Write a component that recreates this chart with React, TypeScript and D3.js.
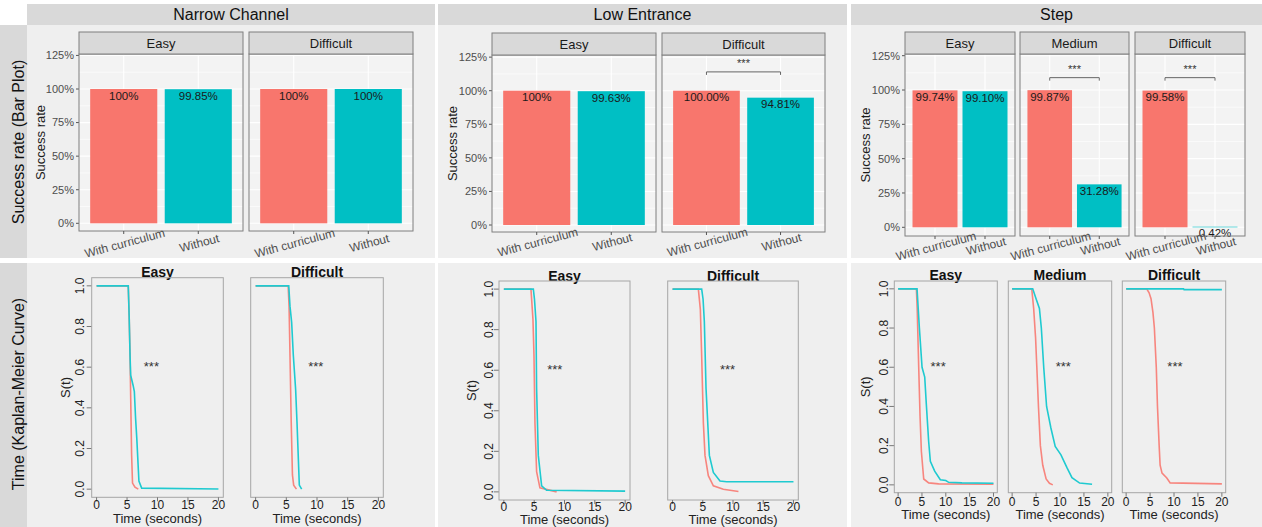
import React from 'react';
import * as d3 from 'd3';

const W = 1262;
const H = 527;
const RED = '#F8766D';
const TEAL = '#00BFC4';
const KM_RED = '#F7857E';
const KM_TEAL = '#1FCAD0';
const FONT = '"Liberation Sans", Arial, sans-serif';

// ---- data ----
const columnTitles = ['Narrow Channel', 'Low Entrance', 'Step'];
const rowTitles = ['Success rate (Bar Plot)', 'Time (Kaplan-Meier Curve)'];
const groups = ['With curriculum', 'Without'];
const yTicks = [0, 0.25, 0.5, 0.75, 1, 1.25];
const timeTicks = [0, 5, 10, 15, 20];
const survTicks = [0, 0.2, 0.4, 0.6, 0.8, 1.0];

const narrowLevels = ['Easy', 'Difficult'];
const narrowWith = [1.0, 1.0];
const narrowWithout = [0.9985, 1.0];
const narrowWithLabels = ['100%', '100%'];
const narrowWithoutLabels = ['99.85%', '100%'];
const narrowSig = [null, null];

const lowLevels = ['Easy', 'Difficult'];
const lowWith = [1.0, 1.0];
const lowWithout = [0.9963, 0.9481];
const lowWithLabels = ['100%', '100.00%'];
const lowWithoutLabels = ['99.63%', '94.81%'];
const lowSig = [null, 1.14];

const stepLevels = ['Easy', 'Medium', 'Difficult'];
const stepWith = [0.9974, 0.9987, 0.9958];
const stepWithout = [0.991, 0.3128, 0.0042];
const stepWithLabels = ['99.74%', '99.87%', '99.58%'];
const stepWithoutLabels = ['99.10%', '31.28%', '0.42%'];
const stepSig = [null, 1.09, 1.09];

// Kaplan-Meier curves, [time, S(t)]
const narrowEasyWith = [[0, 1], [5.2, 1], [5.35, 0.85], [5.5, 0.65], [5.6, 0.45], [5.75, 0.17], [5.9, 0.03], [6.3, 0.01], [6.85, 0]];
const narrowEasyWithout = [[0, 1], [5.2, 1], [5.35, 0.85], [5.5, 0.65], [5.6, 0.56], [6.0, 0.51], [6.2, 0.48], [6.4, 0.35], [6.6, 0.25], [6.95, 0.04], [7.4, 0.005], [20, 0.001]];
const narrowDiffWith = [[0, 1], [5.3, 1], [5.45, 0.9], [5.6, 0.66], [5.8, 0.33], [6.0, 0.07], [6.2, 0.02], [6.65, 0]];
const narrowDiffWithout = [[0, 1], [5.4, 1], [5.6, 0.9], [5.87, 0.82], [6.14, 0.66], [6.52, 0.49], [6.74, 0.33], [7.12, 0.02], [7.5, 0]];

const lowEasyWith = [[0, 1], [4.47, 1], [4.8, 0.85], [4.97, 0.67], [5.13, 0.34], [5.4, 0.1], [5.95, 0.02], [8.7, 0]];
const lowEasyWithout = [[0, 1], [4.86, 1], [5.05, 0.95], [5.3, 0.84], [5.4, 0.51], [5.68, 0.18], [6.23, 0.03], [7.05, 0.008], [20, 0.004]];
const lowDiffWith = [[0, 1], [4.27, 1], [4.6, 0.9], [4.82, 0.67], [5.1, 0.34], [5.37, 0.18], [5.92, 0.08], [6.75, 0.03], [8.4, 0.013], [10.9, 0.002]];
const lowDiffWithout = [[0, 1], [4.82, 1], [5.05, 0.95], [5.26, 0.84], [5.54, 0.51], [6.09, 0.18], [6.75, 0.096], [7.85, 0.054], [8.95, 0.05], [20, 0.05]];

const stepEasyWith = [[0, 1], [3.83, 1], [4.0, 0.9], [4.32, 0.6], [4.6, 0.35], [4.88, 0.17], [5.37, 0.03], [6.41, 0.01], [8.5, 0.005], [20, 0.003]];
const stepEasyWithout = [[0, 1], [3.97, 1], [4.46, 0.8], [5.02, 0.6], [5.58, 0.55], [5.92, 0.41], [6.41, 0.22], [6.76, 0.12], [7.67, 0.07], [8.85, 0.026], [10, 0.022], [10.6, 0.013], [13.4, 0.01], [20, 0.008]];
const stepMedWith = [[0, 1], [4.1, 1], [4.5, 0.9], [4.9, 0.75], [5.16, 0.6], [5.5, 0.4], [5.9, 0.2], [6.4, 0.1], [7.1, 0.03], [7.8, 0.008], [8.5, 0]];
const stepMedWithout = [[0, 1], [4.3, 1], [5.0, 0.95], [5.7, 0.9], [6.1, 0.8], [6.6, 0.6], [7.2, 0.4], [8.1, 0.29], [9.0, 0.196], [10.2, 0.153], [11.5, 0.085], [12.5, 0.037], [14.1, 0.009], [16.7, 0.003]];
const stepDiffWith = [[0, 1], [4.3, 1], [4.8, 0.98], [5.2, 0.95], [5.6, 0.88], [5.9, 0.8], [6.3, 0.6], [6.55, 0.4], [6.9, 0.2], [7.1, 0.1], [7.5, 0.06], [8.5, 0.035], [9.2, 0.01], [20, 0.005]];
const stepDiffWithout = [[0, 1], [12, 1], [12.1, 0.996], [20, 0.996]];

const narrowKmTitles = ['Easy', 'Difficult'];
const lowKmTitles = ['Easy', 'Difficult'];
const stepKmTitles = ['Easy', 'Medium', 'Difficult'];
const narrowSigT = [9.0, 9.8];
const lowSigT = [8.4, 9.1];
const stepSigT = [8.4, 10.7, 10.2];
const sigS = 0.62;

// ---- layout ----
const colX = [[27, 435], [438, 847], [851, 1262]];
const barLayouts = [
  { panels: [[79, 243], [249, 413]], stripTop: 32, stripBottom: 54, panelBottom: 231, y0: 223.3, y100: 89, ylabX: 40, xlabDy: 12 },
  { panels: [[492, 656], [662, 825]], stripTop: 33, stripBottom: 55, panelBottom: 232, y0: 225, y100: 90.7, ylabX: 452, xlabDy: 10 },
  { panels: [[905, 1015], [1020, 1129], [1135, 1245]], stripTop: 32, stripBottom: 54, panelBottom: 236, y0: 227.3, y100: 90, ylabX: 865, xlabDy: 10 },
];
const kmLayouts = [
  { boxes: [[91.7, 223.3], [250.7, 383.3]], top: 277.7, bottom: 497.3, titleY: 271.7, xtickY: 504.3, xlabY: 518.3, ytickX: 80, ylabX: 65 },
  { boxes: [[499, 630], [667.7, 798.3]], top: 281, bottom: 500, titleY: 275.7, xtickY: 506.7, xlabY: 519, ytickX: 488.3, ylabX: 471.7 },
  { boxes: [[894.3, 997.3], [1008.3, 1111.7], [1122.3, 1225.7]], top: 281, bottom: 492.7, titleY: 275, xtickY: 501.7, xlabY: 514.3, ytickX: 883.3, ylabX: 865 },
];

const pct = d3.format('.0%');

function BarColumn({ lay, levels, withVals, withoutVals, withLabels, withoutLabels, sig }) {
  const y = d3.scaleLinear().domain([0, 1]).range([lay.y0, lay.y100]);
  const left = lay.panels[0][0];
  const minor = d3.range(0.125, 1.3, 0.25);
  return (
    <g>
      {yTicks.map(t => (
        <g key={t}>
          <line x1={left - 3} x2={left} y1={y(t)} y2={y(t)} stroke="#555" />
          <text x={left - 5} y={y(t)} dy="0.35em" textAnchor="end" fontSize={11} fill="#4d4d4d">{pct(t)}</text>
        </g>
      ))}
      <text transform={`translate(${lay.ylabX},${(lay.stripBottom + lay.panelBottom) / 2}) rotate(-90)`}
        textAnchor="middle" dy="0.35em" fontSize={13} fill="#1a1a1a">Success rate</text>
      {levels.map((lv, i) => {
        const [x0, x1] = lay.panels[i];
        const x = d3.scaleBand().domain(groups).range([x0, x1]).paddingInner(0.1).paddingOuter(0.15);
        const bw = x.bandwidth();
        const cx = g => x(g) + bw / 2;
        const vals = [withVals[i], withoutVals[i]];
        const labels = [withLabels[i], withoutLabels[i]];
        return (
          <g key={lv}>
            <rect x={x0} y={lay.stripBottom} width={x1 - x0} height={lay.panelBottom - lay.stripBottom} fill="#f3f3f3" />
            {minor.map(t => (
              <line key={'m' + t} x1={x0} x2={x1} y1={y(t)} y2={y(t)} stroke="#fff" strokeWidth={0.6} />
            ))}
            {yTicks.map(t => (
              <line key={t} x1={x0} x2={x1} y1={y(t)} y2={y(t)} stroke="#fff" strokeWidth={1.1} />
            ))}
            {groups.map(g => (
              <line key={g} x1={cx(g)} x2={cx(g)} y1={lay.stripBottom} y2={lay.panelBottom} stroke="#fff" strokeWidth={1.1} />
            ))}
            {groups.map((g, j) => (
              <rect key={'b' + g} x={x(g)} y={y(vals[j])} width={bw} height={y(0) - y(vals[j])} fill={j === 0 ? RED : TEAL} />
            ))}
            {groups.map((g, j) => (
              <text key={'l' + g} x={cx(g)} y={y(vals[j]) + 10.5} textAnchor="middle" fontSize={11.5} fill="#1a1a1a">{labels[j]}</text>
            ))}
            {sig[i] != null && (
              <g>
                <path d={`M${cx(groups[0])},${y(sig[i]) + 3}V${y(sig[i])}H${cx(groups[1])}V${y(sig[i]) + 3}`} fill="none" stroke="#666" />
                <text x={(cx(groups[0]) + cx(groups[1])) / 2} y={y(sig[i]) - 4.5} textAnchor="middle" fontSize={11} fill="#333">***</text>
              </g>
            )}
            <rect x={x0} y={lay.stripBottom} width={x1 - x0} height={lay.panelBottom - lay.stripBottom} fill="none" stroke="#7f7f7f" />
            <rect x={x0} y={lay.stripTop} width={x1 - x0} height={lay.stripBottom - lay.stripTop} fill="#d9d9d9" stroke="#7f7f7f" />
            <text x={(x0 + x1) / 2} y={(lay.stripTop + lay.stripBottom) / 2} dy="0.35em" textAnchor="middle" fontSize={13} fill="#1a1a1a">{lv}</text>
            {groups.map(g => (
              <g key={'x' + g}>
                <line x1={cx(g)} x2={cx(g)} y1={lay.panelBottom} y2={lay.panelBottom + 3} stroke="#555" />
                <text transform={`translate(${cx(g) + 1},${lay.panelBottom + lay.xlabDy}) rotate(-15)`} textAnchor="middle" dy="0.35em" fontSize={12} fill="#4d4d4d">{g}</text>
              </g>
            ))}
          </g>
        );
      })}
    </g>
  );
}

function KMColumn({ lay, titles, withCurves, withoutCurves, sigT }) {
  const y = d3.scaleLinear().domain([-0.04, 1.04]).range([lay.bottom, lay.top]);
  return (
    <g>
      {survTicks.map(t => (
        <g key={t}>
          <line x1={lay.boxes[0][0] - 5} x2={lay.boxes[0][0]} y1={y(t)} y2={y(t)} stroke="#777" />
          <text transform={`translate(${lay.ytickX},${y(t)}) rotate(-90)`} textAnchor="middle" dy="0.35em" fontSize={12} fill="#222">{t.toFixed(1)}</text>
        </g>
      ))}
      <text transform={`translate(${lay.ylabX},${(lay.top + lay.bottom) / 2}) rotate(-90)`} textAnchor="middle" dy="0.35em" fontSize={13} fill="#222">S(t)</text>
      {titles.map((title, i) => {
        const [bx0, bx1] = lay.boxes[i];
        const x = d3.scaleLinear().domain([-0.8, 20.8]).range([bx0, bx1]);
        const line = d3.line().x(d => x(d[0])).y(d => y(d[1]));
        return (
          <g key={title}>
            <text x={(bx0 + bx1) / 2} y={lay.titleY + 5} textAnchor="middle" fontSize={14} fontWeight="bold" fill="#111">{title}</text>
            <rect x={bx0} y={lay.top} width={bx1 - bx0} height={lay.bottom - lay.top} fill="none" stroke="#a6a6a6" />
            {timeTicks.map(t => (
              <g key={t}>
                <line x1={x(t)} x2={x(t)} y1={lay.bottom} y2={lay.bottom + 4} stroke="#777" />
                <text x={x(t)} y={lay.xtickY + 4.3} textAnchor="middle" fontSize={12} fill="#222">{t}</text>
              </g>
            ))}
            <text x={(bx0 + bx1) / 2} y={lay.xlabY + 4.7} textAnchor="middle" fontSize={13} fill="#222">Time (seconds)</text>
            <path d={line(withCurves[i])} fill="none" stroke={KM_RED} strokeWidth={1.6} />
            <path d={line(withoutCurves[i])} fill="none" stroke={KM_TEAL} strokeWidth={1.6} />
            <text x={x(sigT[i])} y={y(sigS) + 7.5} textAnchor="middle" fontSize={13} fill="#333">***</text>
          </g>
        );
      })}
    </g>
  );
}

export default function App() {
  return (
    <svg width={W} height={H} style={{ position: 'absolute', left: 0, top: 0, fontFamily: FONT }}>
      <rect width={W} height={H} fill="#fff" />
      {colX.map(([a, b], i) => (
        <g key={i}>
          <rect x={a} y={4} width={b - a} height={21} fill="#d9d9d9" />
          <text x={(a + b) / 2} y={14.5} dy="0.35em" textAnchor="middle" fontSize={16} fill="#111">{columnTitles[i]}</text>
          <rect x={a} y={25} width={b - a} height={233} fill="#efefef" />
          <rect x={a} y={263} width={b - a} height={264} fill="#efefef" />
        </g>
      ))}
      <rect x={0} y={25} width={27} height={233} fill="#d9d9d9" />
      <rect x={0} y={263} width={27} height={264} fill="#d9d9d9" />
      <text transform="translate(18,142) rotate(-90)" textAnchor="middle" dy="0.35em" fontSize={16} fill="#111">{rowTitles[0]}</text>
      <text transform="translate(18,394) rotate(-90)" textAnchor="middle" dy="0.35em" fontSize={16} fill="#111">{rowTitles[1]}</text>

      <BarColumn lay={barLayouts[0]} levels={narrowLevels} withVals={narrowWith} withoutVals={narrowWithout}
        withLabels={narrowWithLabels} withoutLabels={narrowWithoutLabels} sig={narrowSig} />
      <BarColumn lay={barLayouts[1]} levels={lowLevels} withVals={lowWith} withoutVals={lowWithout}
        withLabels={lowWithLabels} withoutLabels={lowWithoutLabels} sig={lowSig} />
      <BarColumn lay={barLayouts[2]} levels={stepLevels} withVals={stepWith} withoutVals={stepWithout}
        withLabels={stepWithLabels} withoutLabels={stepWithoutLabels} sig={stepSig} />

      <KMColumn lay={kmLayouts[0]} titles={narrowKmTitles} withCurves={[narrowEasyWith, narrowDiffWith]}
        withoutCurves={[narrowEasyWithout, narrowDiffWithout]} sigT={narrowSigT} />
      <KMColumn lay={kmLayouts[1]} titles={lowKmTitles} withCurves={[lowEasyWith, lowDiffWith]}
        withoutCurves={[lowEasyWithout, lowDiffWithout]} sigT={lowSigT} />
      <KMColumn lay={kmLayouts[2]} titles={stepKmTitles} withCurves={[stepEasyWith, stepMedWith, stepDiffWith]}
        withoutCurves={[stepEasyWithout, stepMedWithout, stepDiffWithout]} sigT={stepSigT} />
    </svg>
  );
}
